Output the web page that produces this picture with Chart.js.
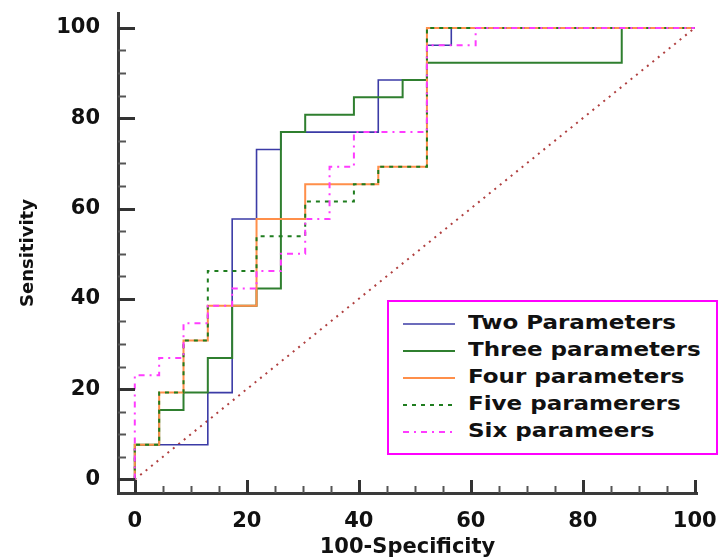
<!DOCTYPE html>
<html>
<head>
<meta charset="utf-8">
<script src="https://cdn.jsdelivr.net/npm/chart.js@4.4.1/dist/chart.umd.min.js"></script>
<style>
    body { margin: 0; background: #fff; }
    #wrap { position: relative; width: 720px; height: 557px; }
    #legend {
        position: absolute; left: 387px; top: 300px;
        width: 327px; height: 143px;
        border: 2px solid #ff00ff; background: #fff;
        font-family: "DejaVu Sans", sans-serif; font-weight: bold; font-size: 20px; color: #111;
        padding-top: 8px; box-sizing: content-box;
    }
    .row { display: flex; align-items: center; height: 27.2px; }
    .row svg { margin-left: 14px; width: 52px; height: 6px; flex: none; }
    .row span { margin-left: 13px; transform: scaleX(1.15); transform-origin: left center; white-space: nowrap; position: relative; top: -2px; }
</style>
</head>
<body>
<div id="wrap">
    <canvas id="rocChart" width="720" height="557"></canvas>
    <div id="legend"></div>
</div>
<script>
// ROC curves: corner points (100-Specificity, Sensitivity), vertical step first
const fprTwo = [0, 13.04, 17.39, 21.74, 26.09, 43.48, 52.17, 56.52, 100];
const tprTwo = [0, 7.69, 19.23, 57.69, 73.08, 76.92, 88.46, 96.15, 100];

const fprThree = [0, 4.35, 8.70, 13.04, 17.39, 21.74, 26.09, 30.43, 39.13, 47.83, 52.17, 86.96, 100];
const tprThree = [0, 7.69, 15.38, 19.23, 26.92, 38.46, 42.31, 76.92, 80.77, 84.62, 88.46, 92.31, 100];

const fprFour = [0, 4.35, 8.70, 13.04, 21.74, 30.43, 43.48, 52.17, 100];
const tprFour = [0, 7.69, 19.23, 30.77, 38.46, 57.69, 65.38, 69.23, 100];

const fprFive = [0, 4.35, 8.70, 13.04, 21.74, 30.43, 39.13, 43.48, 52.17, 100];
const tprFive = [0, 7.69, 19.23, 30.77, 46.15, 53.85, 61.54, 65.38, 69.23, 100];

const fprSix = [0, 4.35, 8.70, 13.04, 17.39, 21.74, 26.09, 30.43, 34.78, 39.13, 52.17, 60.87, 100];
const tprSix = [0, 23.08, 26.92, 34.62, 38.46, 42.31, 46.15, 50, 57.69, 69.23, 76.92, 96.15, 100];

const refLineX = [0, 100];
const refLineY = [0, 100];

const axisTicks = [0, 20, 40, 60, 80, 100];
const minorStep = 5;

const seriesLabels = ["Two Parameters", "Three parameters", "Four parameters", "Five paramerers", "Six parameers"];

const fontFamily = '"DejaVu Sans", sans-serif';

function toPoints(xs, ys) {
    return xs.map((x, i) => ({ x: x, y: ys[i] }));
}

const curves = [
    { label: seriesLabels[0], data: toPoints(fprTwo, tprTwo), color: "#3b3ba6", width: 1.6, dash: [], order: 5 },
    { label: seriesLabels[1], data: toPoints(fprThree, tprThree), color: "#2f7f2f", width: 2, dash: [], order: 4 },
    { label: seriesLabels[2], data: toPoints(fprFour, tprFour), color: "#ff8f4a", width: 2, dash: [], order: 3 },
    { label: seriesLabels[3], data: toPoints(fprFive, tprFive), color: "#1f7d1f", width: 2, dash: [4, 5], order: 2 },
    { label: seriesLabels[4], data: toPoints(fprSix, tprSix), color: "#ff3cff", width: 2, dash: [6, 5, 2, 5], order: 1 },
];

const datasets = curves.map((c) => ({
    label: c.label,
    data: c.data,
    borderColor: c.color,
    borderWidth: c.width,
    borderDash: c.dash,
    stepped: "after",
    pointRadius: 0,
    fill: false,
    order: c.order,
}));

datasets.push({
    label: "reference",
    data: toPoints(refLineX, refLineY),
    borderColor: "#b04040",
    borderWidth: 2,
    borderDash: [2, 5],
    pointRadius: 0,
    fill: false,
    order: 6,
});

// ticks drawn inside the plot, as in the original
const innerTicks = {
    id: "innerTicks",
    afterDatasetsDraw(chart) {
        const { ctx, chartArea, scales } = chart;
        ctx.save();
        for (let v = 0; v <= 100; v += minorStep) {
            const major = v % 20 === 0;
            ctx.strokeStyle = major ? "#333" : "#555";
            ctx.lineWidth = major ? 3 : 2;
            const py = Math.round(scales.y.getPixelForValue(v)) + 0.5;
            ctx.beginPath();
            ctx.moveTo(chartArea.left, py);
            ctx.lineTo(chartArea.left + (major ? 17 : 8), py);
            ctx.stroke();
            const px = Math.round(scales.x.getPixelForValue(v)) + 0.5;
            ctx.beginPath();
            ctx.moveTo(px, chartArea.bottom);
            ctx.lineTo(px, chartArea.bottom - (major ? 13 : 7));
            ctx.stroke();
        }
        ctx.restore();
    }
};

const rocCanvas = document.getElementById("rocChart");
const rocChart = new Chart(rocCanvas, {
    type: "line",
    data: { datasets: datasets },
    options: {
        responsive: false,
        animation: false,
        devicePixelRatio: 1,
        layout: { padding: { top: 13, right: 23, left: 0, bottom: 0 } },
        plugins: {
            legend: { display: false },
            tooltip: { enabled: false },
        },
        scales: {
            x: {
                type: "linear",
                min: -3,
                max: 100.4,
                afterBuildTicks: (s) => { s.ticks = axisTicks.map((v) => ({ value: v })); },
                afterFit: (s) => { s.height = 64; s.paddingLeft = 0; s.paddingRight = 0; },
                grid: { display: false },
                border: { display: true, color: "#3a3a3a", width: 3 },
                ticks: { color: "#111", padding: 8, maxRotation: 0, font: { family: fontFamily, size: 21, weight: "bold" } },
                title: {
                    display: true,
                    text: "100-Specificity",
                    color: "#111",
                    padding: { top: 0, bottom: -3 },
                    font: { family: fontFamily, size: 21, weight: "bold" },
                },
            },
            y: {
                type: "linear",
                min: -3,
                max: 103.3,
                afterBuildTicks: (s) => { s.ticks = axisTicks.map((v) => ({ value: v })); },
                afterFit: (s) => { s.width = 118; s.paddingTop = 0; s.paddingBottom = 0; },
                grid: { display: false },
                border: { display: true, color: "#3a3a3a", width: 3 },
                ticks: { color: "#111", padding: 10, font: { family: fontFamily, size: 21, weight: "bold" } },
                title: {
                    display: true,
                    text: "Sensitivity",
                    color: "#111",
                    padding: { top: 18, bottom: 0 },
                    font: { family: fontFamily, size: 18, weight: "bold" },
                },
            },
        },
    },
    plugins: [innerTicks],
});

// legend box with line samples
const legendBox = document.getElementById("legend");
curves.forEach((c) => {
    const row = document.createElement("div");
    row.className = "row";
    const dash = c.dash.length ? c.dash.join(" ") : "none";
    row.innerHTML =
        `<svg viewBox="0 0 52 6"><line x1="0" y1="3" x2="52" y2="3" stroke="${c.color}" stroke-width="${c.width}" stroke-dasharray="${dash}"/></svg>` +
        `<span>${c.label}</span>`;
    legendBox.appendChild(row);
});
</script>
</body>
</html>
